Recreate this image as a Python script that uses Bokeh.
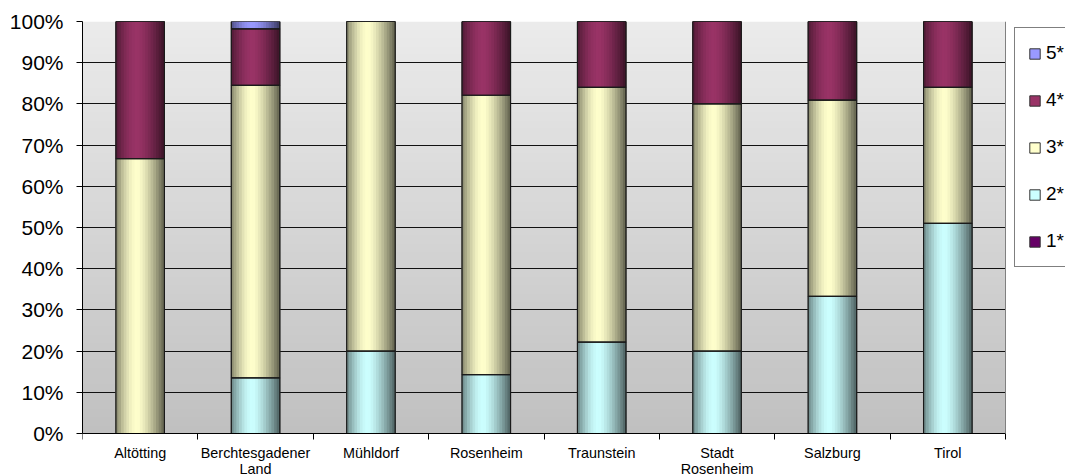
import numpy as np
from bokeh.plotting import figure
from bokeh.models import (ColumnDataSource, Range1d, LinearAxis, FixedTicker,
                          BoxAnnotation, Legend, LegendItem, Grid)
from bokeh.transform import dodge
from bokeh.embed import file_html
from bokeh.resources import INLINE

# ---------------- data ----------------
categories = ["Altötting", "Berchtesgadener\nLand", "Mühldorf", "Rosenheim",
              "Traunstein", "Stadt\nRosenheim", "Salzburg", "Tirol"]
series_names = ["1*", "2*", "3*", "4*", "5*"]
s1 = [0, 0, 0, 0, 0, 0, 0, 0]
s2 = [0, 13.5, 20.0, 14.3, 22.2, 20.0, 33.3, 51.0]
s3 = [66.7, 71.0, 80.0, 67.8, 61.8, 60.0, 47.6, 33.0]
s4 = [33.3, 13.7, 0, 17.9, 16.0, 20.0, 19.1, 16.0]
s5 = [0, 1.8, 0, 0, 0, 0, 0, 0]
series_colors = ["#660066", "#CCFFFF", "#FFFFCC", "#993366", "#9999FF"]
y_ticks = [0, 10, 20, 30, 40, 50, 60, 70, 80, 90, 100]
y_tick_labels = ["0%", "10%", "20%", "30%", "40%", "50%", "60%", "70%", "80%", "90%", "100%"]

series_values = [s1, s2, s3, s4, s5]

# ------------- table of stacks -------------
n = len(categories)
xpos = np.arange(n) + 0.5          # category centres on a 0..n axis
vals = np.array(series_values, dtype=float)
tops = np.cumsum(vals, axis=0)
bottoms = tops - vals
data = {"x": xpos, "cat": categories}
for k in range(len(series_names)):
    data[f"b{k}"] = bottoms[k]
    data[f"t{k}"] = tops[k]
src = ColumnDataSource(data)

FONT = "Liberation Sans"
BAR_W = 0.42
W, H = 1065, 476
LEFT, TOP = 82, 21
PLOT_RIGHT, PLOT_BOTTOM = 1005, 433   # plotting area; legend and labels live beyond it
x_end = n * (W - LEFT) / (PLOT_RIGHT - LEFT)
y_start = -100 * (H - PLOT_BOTTOM) / (PLOT_BOTTOM - TOP)

p = figure(x_range=Range1d(0, x_end), y_range=Range1d(y_start, 100),
           width=W, height=H, output_backend="svg", toolbar_location=None,
           x_axis_location=None, min_border_left=LEFT, min_border_right=0,
           min_border_top=TOP, min_border_bottom=0)
p.background_fill_color = "white"
p.border_fill_color = "white"
p.outline_line_color = None

# background vertical gradient of the plot area (styling only)
def hexmix(c1, c2, t):
    a = [int(c1[i:i + 2], 16) for i in (1, 3, 5)]
    b = [int(c2[i:i + 2], 16) for i in (1, 3, 5)]
    return "#%02x%02x%02x" % tuple(int(round(a[i] + (b[i] - a[i]) * t)) for i in range(3))

NB = 50
for i in range(NB):
    t = (i + 0.5) / NB
    p.add_layout(BoxAnnotation(left=0, right=n, bottom=100 * i / NB,
                               top=min(100, 100 * (i + 1) / NB + 0.3),
                               fill_color=hexmix("#c0c0c0", "#ebebeb", t),
                               fill_alpha=1, line_color=None, level="image"))

# y axis
p.yaxis.ticker = FixedTicker(ticks=y_ticks)
p.yaxis.bounds = (0, 100)
p.yaxis.major_label_overrides = {v: l for v, l in zip(y_ticks, y_tick_labels)}
p.yaxis.major_label_text_font = FONT
p.yaxis.major_label_text_font_size = "21px"
p.yaxis.major_label_text_color = "black"
p.yaxis.axis_line_color = "black"
p.yaxis.major_tick_line_color = "black"
p.yaxis.major_tick_out = 6
p.yaxis.major_tick_in = 0
p.yaxis.minor_tick_line_color = None
p.yaxis.major_label_standoff = 13

# right border of the plotting area
right_edge = LinearAxis(fixed_location=n, bounds=(0, 100), ticker=FixedTicker(ticks=[]),
                        axis_line_color="#808080", major_tick_line_color=None,
                        minor_tick_line_color=None, major_label_text_font_size="0px")
p.add_layout(right_edge, "right")

p.xgrid.grid_line_color = None
if "cross_bounds" in Grid.properties():
    p.ygrid.ticker = FixedTicker(ticks=y_ticks)
    p.ygrid.cross_bounds = (0, n)
    p.ygrid.grid_line_color = "#111111"
    p.ygrid.grid_line_width = 1
else:
    p.ygrid.grid_line_color = None
    p.segment(x0=0, x1=n, y0=y_ticks, y1=y_ticks, line_color="#111111",
              line_width=1, level="underlay")

# x axis at 0%: labels at category centres, ticks at category boundaries
cat_axis = LinearAxis(fixed_location=0,
                      ticker=FixedTicker(ticks=list(xpos), minor_ticks=list(range(n + 1))),
                      major_label_overrides={float(x): c for x, c in zip(xpos, categories)},
                      bounds=(0, n),
                      axis_line_color="black", major_tick_line_color=None,
                      major_tick_out=0, major_tick_in=0,
                      minor_tick_line_color="black", minor_tick_out=6, minor_tick_in=0,
                      major_label_text_font=FONT, major_label_text_font_size="14.4px",
                      major_label_text_line_height=1.02,
                      major_label_text_color="black", major_label_standoff=5)
p.add_layout(cat_axis, "below")

# -------- bars --------
def shade(col, f):
    c = [int(col[i:i + 2], 16) for i in (1, 3, 5)]
    return "#%02x%02x%02x" % tuple(max(0, min(255, int(round(v * f)))) for v in c)

def profile(t):
    # brightness across the bar (dark edges, light centre slightly left of middle)
    if t < 0.45:
        return 0.52 + 0.48 * np.sin(0.5 * np.pi * t / 0.45)
    u = (t - 0.45) / 0.55
    return 1.0 - 0.62 * u ** 1.4

legend_renderers = []
for k, col in enumerate(series_colors):
    r = p.vbar(x="x", width=BAR_W, bottom=f"b{k}", top=f"t{k}", source=src,
               fill_color=col, line_color="#333333", line_width=1)
    legend_renderers.append(r)

NS = 18
sw = BAR_W / NS
for j in range(NS):
    t = (j + 0.5) / NS
    off = -BAR_W / 2 + (j + 0.5) * sw
    f = profile(t)
    for k, col in enumerate(series_colors):
        p.vbar(x=dodge("x", off), width=sw * 1.25,
               bottom=f"b{k}", top=f"t{k}", source=src,
               fill_color=shade(col, f), line_color=None)

for k in range(len(series_colors)):
    p.vbar(x="x", width=BAR_W, bottom=f"b{k}", top=f"t{k}", source=src,
           fill_alpha=0, line_color="#1a1a1a", line_width=1.2)

# -------- legend --------
items = [LegendItem(label=series_names[k], renderers=[legend_renderers[k]])
         for k in reversed(range(len(series_names)))]
legend = Legend(items=items, location=(1014 - LEFT, H - 267), orientation="vertical",
                border_line_color="black", border_line_width=1,
                background_fill_color="white", background_fill_alpha=1,
                label_text_font=FONT, label_text_font_size="19px",
                label_text_color="black",
                glyph_width=13, glyph_height=13, label_height=24, label_width=19,
                spacing=23, padding=13, margin=0, label_standoff=5)
p.add_layout(legend, "center")

open("out.html", "w").write(file_html(p, INLINE))
